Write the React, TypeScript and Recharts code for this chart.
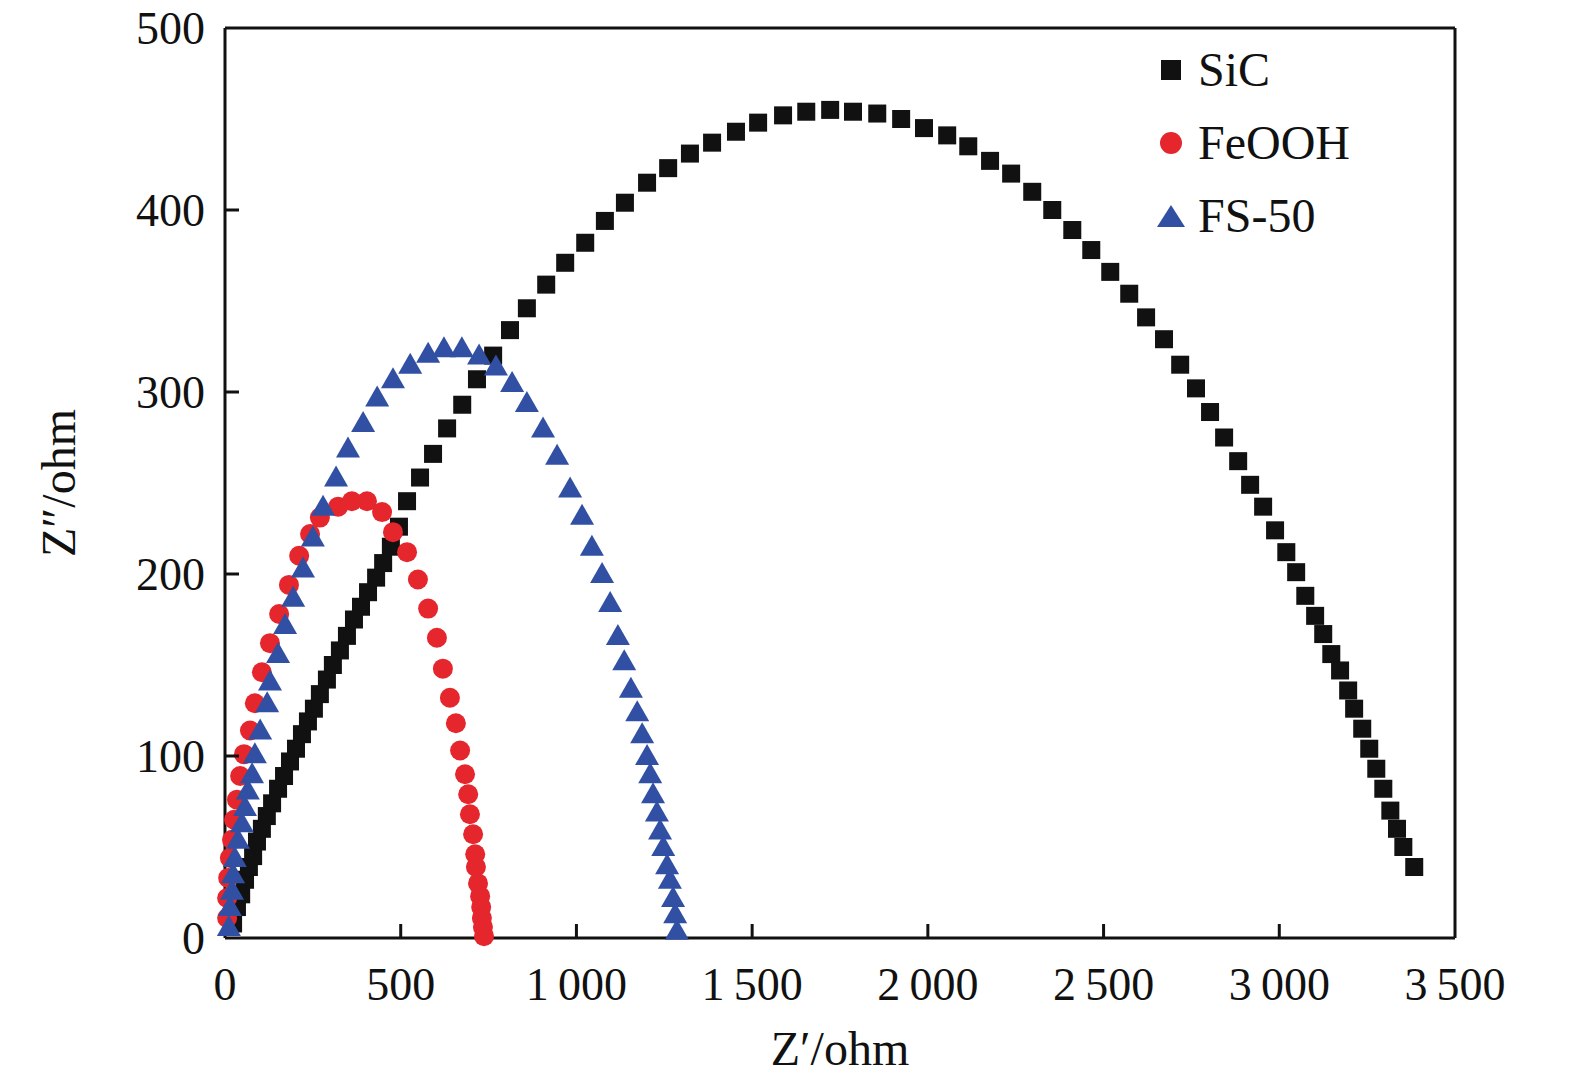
import { ScatterChart, Scatter, XAxis, YAxis, ReferenceLine } from 'recharts';

// Nyquist points: [Z', Z''] in ohm
const sic: number[][] = [
  [23, 8], [34, 17], [46, 24], [57, 32], [68, 39], [80, 45], [91, 53], [105, 60], [119, 67], [134, 74],
  [151, 82], [168, 89], [185, 97], [202, 104], [219, 112], [236, 119], [253, 126], [270, 134], [290, 142],
  [307, 150], [327, 158], [347, 166], [367, 175], [387, 182], [407, 190], [430, 198], [450, 206], [472, 215],
  [495, 226], [518, 240], [555, 253], [592, 266], [632, 280], [675, 293], [717, 307], [763, 320], [811, 334],
  [859, 346], [914, 359], [968, 371], [1025, 382], [1081, 394], [1138, 404], [1201, 415], [1261, 423],
  [1323, 431], [1386, 437], [1454, 443], [1517, 448], [1588, 452], [1654, 454], [1722, 455], [1787, 454],
  [1856, 453], [1924, 450], [1989, 445], [2055, 441], [2115, 435], [2177, 427], [2237, 420], [2297, 410],
  [2354, 400], [2411, 389], [2465, 378], [2519, 366], [2573, 354], [2621, 341], [2672, 329], [2718, 315],
  [2763, 302], [2803, 289], [2843, 275], [2883, 262], [2917, 249], [2954, 237], [2988, 224], [3020, 212],
  [3048, 201], [3074, 188], [3102, 177], [3125, 167], [3148, 156], [3173, 147], [3196, 136], [3213, 126],
  [3236, 115], [3256, 104], [3276, 93], [3296, 82], [3316, 70], [3335, 60], [3353, 50], [3384, 39],
];

const feooh: number[][] = [
  [6, 11], [6, 22], [9, 33], [14, 44], [20, 54], [26, 65], [34, 76], [43, 89], [54, 101], [71, 114],
  [85, 129], [105, 146], [128, 162], [154, 178], [182, 194], [211, 210], [242, 222], [270, 231], [322, 237],
  [361, 240], [404, 240], [447, 234], [478, 223], [518, 212], [549, 197], [578, 181], [603, 165], [620, 148],
  [640, 132], [657, 118], [669, 103], [683, 90], [692, 79], [697, 68], [706, 57], [712, 46], [714, 39],
  [720, 30], [726, 23], [729, 17], [731, 11], [734, 6], [737, 1],
];

const fs50: number[][] = [
  [11, 6], [14, 17], [20, 26], [23, 35], [28, 44], [37, 54], [48, 63], [57, 72], [65, 81], [77, 90],
  [85, 101], [100, 114], [120, 129], [128, 141], [151, 156], [171, 172], [194, 187], [222, 203], [250, 220],
  [279, 237], [316, 253], [350, 269], [393, 283], [433, 297], [478, 307], [527, 315], [578, 321], [623, 324],
  [674, 324], [723, 320], [771, 314], [817, 305], [859, 294], [905, 280], [945, 265], [982, 247], [1016, 232],
  [1044, 215], [1073, 200], [1096, 184], [1118, 166], [1136, 152], [1155, 137], [1173, 124], [1187, 112],
  [1201, 100], [1210, 90], [1218, 79], [1229, 69], [1238, 59], [1247, 50], [1258, 40], [1266, 32], [1275, 22],
  [1281, 13], [1286, 4],
];

const xTicks = [0, 500, 1000, 1500, 2000, 2500, 3000, 3500];
const yTicks = [0, 100, 200, 300, 400, 500];

const toRows = (pts: number[][]) => pts.map(p => ({ x: p[0], y: p[1] }));

const FONT = '"Liberation Serif", "DejaVu Serif", serif';
const INK = '#111';
const RED = '#e5262c';
const BLUE = '#3150a3';
const fmt = (v: number) => (v >= 1000 ? `${Math.floor(v / 1000)}\u2009${String(v % 1000).padStart(3, '0')}` : String(v));

// tick label plus a short inward tick mark
const XTick = (p: any) => {
  const v = p.payload.value;
  const inner = v > 0 && v < 3500;
  return (
    <g>
      {inner && <line x1={p.x} x2={p.x} y1={p.y} y2={p.y - 14} stroke={INK} strokeWidth={3} />}
      <text x={p.x} y={p.y + 62} textAnchor="middle" fontFamily={FONT} fontSize={46} fill={INK}>{fmt(v)}</text>
    </g>
  );
};
const YTick = (p: any) => {
  const v = p.payload.value;
  const inner = v > 0 && v < 500;
  return (
    <g>
      {inner && <line x1={p.x} x2={p.x + 14} y1={p.y} y2={p.y} stroke={INK} strokeWidth={3} />}
      <text x={p.x - 20} y={p.y + 16} textAnchor="end" fontFamily={FONT} fontSize={46} fill={INK}>{v}</text>
    </g>
  );
};

const Square = (p: any) => <rect x={p.cx - 9} y={p.cy - 9} width={18} height={18} fill={INK} />;
const Dot = (p: any) => <circle cx={p.cx} cy={p.cy} r={10} fill={RED} />;
const Tri = (p: any) => <polygon points={`${p.cx - 12},${p.cy + 9} ${p.cx},${p.cy - 12} ${p.cx + 12},${p.cy + 9}`} fill={BLUE} />;

const legend = [
  { name: 'SiC', color: INK, mark: 'square', top: 34 },
  { name: 'FeOOH', color: RED, mark: 'circle', top: 107 },
  { name: 'FS-50', color: BLUE, mark: 'triangle', top: 180 },
];

export default function App() {
  return (
    <div style={{ position: 'relative', width: 1560, height: 1075 }}>
      <ScatterChart width={1560} height={1075} margin={{ top: 20, right: 113, bottom: 0, left: 0 }}>
        <XAxis type="number" dataKey="x" domain={[0, 3500]} ticks={xTicks} height={145}
          stroke={INK} strokeWidth={3} tickLine={false} tickSize={0} tickMargin={0} tick={<XTick />}
          label={{ value: 'Z′/ohm', position: 'insideBottom', offset: 18, style: { fontFamily: FONT, fontSize: 48, fill: INK } }} />
        <YAxis type="number" dataKey="y" domain={[0, 500]} ticks={yTicks} width={217}
          stroke={INK} strokeWidth={3} tickLine={false} tickSize={0} tickMargin={0} tick={<YTick />}
          label={{ value: 'Z″/ohm', angle: -90, position: 'insideLeft', offset: 50, style: { fontFamily: FONT, fontSize: 48, fill: INK, textAnchor: 'middle' } }} />
        <ReferenceLine y={500} stroke={INK} strokeWidth={3} />
        <ReferenceLine x={3500} stroke={INK} strokeWidth={3} />
        <Scatter data={toRows(sic)} shape={<Square />} isAnimationActive={false} />
        <Scatter data={toRows(feooh)} shape={<Dot />} isAnimationActive={false} />
        <Scatter data={toRows(fs50)} shape={<Tri />} isAnimationActive={false} />
      </ScatterChart>
      {legend.map(l => (
        <div key={l.name} style={{ position: 'absolute', left: 1148, top: l.top, display: 'flex', alignItems: 'center', fontFamily: FONT, fontSize: 48, color: INK }}>
          <svg width={30} height={30} style={{ marginRight: 12 }}>
            {l.mark === 'square' && <rect x={5} y={5} width={20} height={20} fill={l.color} />}
            {l.mark === 'circle' && <circle cx={15} cy={15} r={11} fill={l.color} />}
            {l.mark === 'triangle' && <polygon points="1,26 15,4 29,26" fill={l.color} />}
          </svg>
          {l.name}
        </div>
      ))}
    </div>
  );
}
